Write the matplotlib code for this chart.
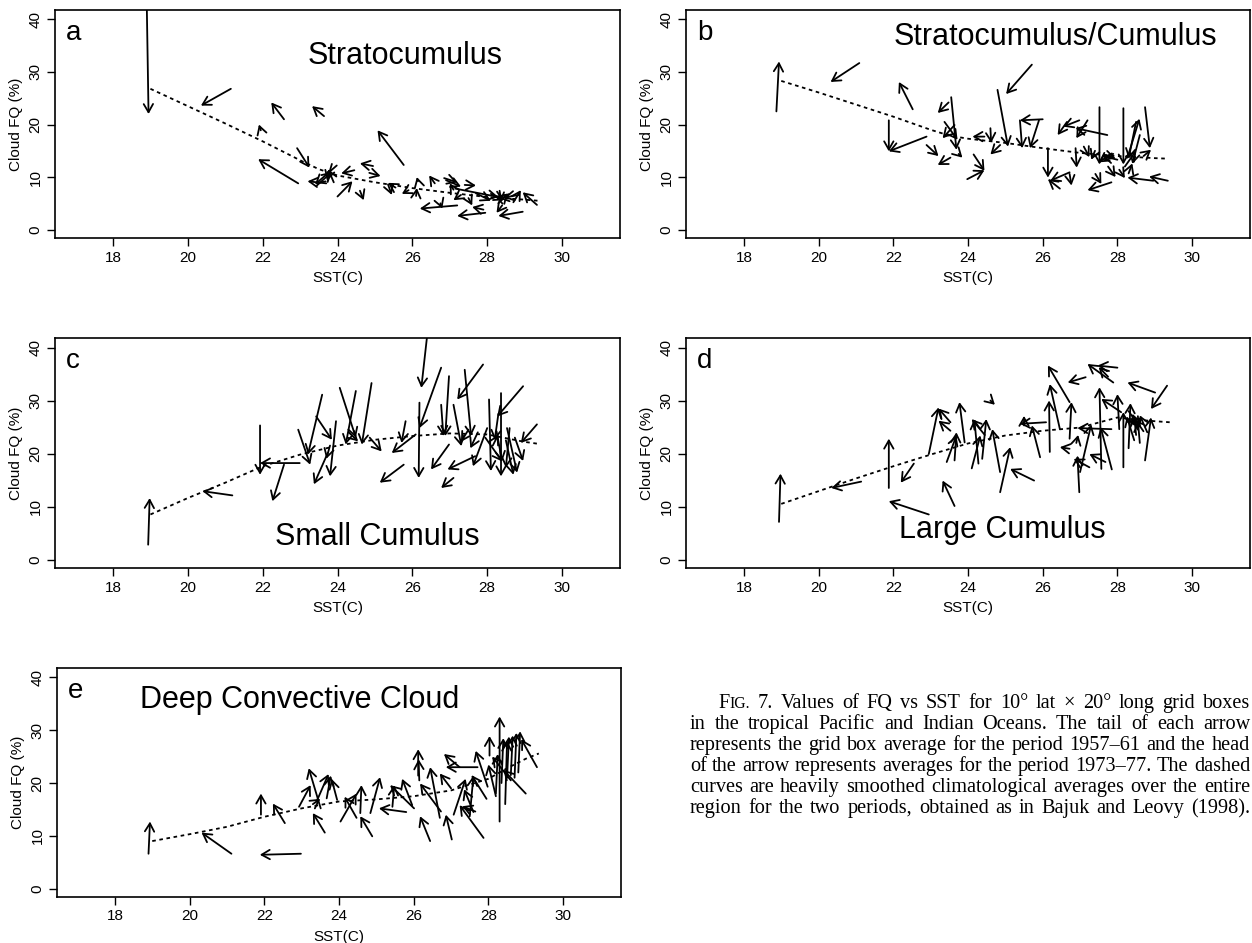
import matplotlib
matplotlib.use("Agg")
import matplotlib.pyplot as plt
from matplotlib.patches import FancyArrowPatch

plt.rcParams["font.family"] = ["Liberation Sans", "DejaVu Sans"]

# arrows: (SST 1957-61, FQ 1957-61, SST 1973-77, FQ 1973-77)
arrows_a = [
    (18.9, 44.0, 18.95, 22.0), (21.15, 26.8, 20.35, 23.6), (22.57, 21.0, 22.23, 24.2),
    (23.64, 21.6, 23.32, 23.5), (21.95, 18.9, 21.9, 20.0), (22.95, 8.8, 21.88, 13.4),
    (25.77, 12.3, 25.07, 18.9), (22.92, 15.5, 23.25, 11.8), (23.85, 12.5, 23.72, 9.3),
    (23.98, 12.2, 23.4, 8.6), (23.45, 8.4, 23.85, 11.0), (23.7, 8.8, 23.2, 9.2),
    (23.9, 9.0, 23.75, 11.5), (24.45, 11.3, 24.1, 10.7), (24.0, 6.3, 24.4, 9.2),
    (24.6, 7.4, 24.7, 5.6), (24.95, 12.1, 24.6, 12.6), (24.85, 10.8, 25.15, 10.2),
    (25.35, 8.6, 25.45, 6.6), (25.9, 7.5, 25.72, 6.8), (26.1, 6.4, 26.12, 7.9),
    (26.15, 9.2, 26.12, 10.0), (26.6, 8.8, 26.45, 10.3), (26.9, 9.4, 27.3, 8.2),
    (26.85, 9.8, 27.2, 9.0), (27.4, 8.5, 27.7, 8.4), (27.2, 4.6, 26.2, 4.0),
    (26.75, 5.0, 26.8, 4.0), (27.95, 3.2, 27.2, 2.6), (28.95, 3.4, 28.3, 2.6),
    (29.33, 4.7, 28.95, 7.1), (27.15, 7.8, 28.3, 6.2), (27.7, 6.9, 28.1, 5.5),
    (27.5, 6.0, 27.6, 4.6), (27.9, 3.8, 27.6, 4.3), (28.1, 6.8, 28.45, 5.6),
    (28.6, 5.4, 28.2, 6.4), (28.45, 7.1, 28.35, 5.3), (28.85, 6.6, 28.45, 6.1),
    (28.7, 5.2, 28.9, 7.5), (28.3, 5.0, 28.55, 6.9), (28.4, 4.6, 28.25, 3.2),
    (27.1, 7.6, 27.0, 8.8), (25.55, 8.0, 25.35, 8.9), (27.3, 6.6, 27.1, 5.6),
]
curve_sst_a = [19, 20, 21, 22, 23, 23.5, 24, 25, 26, 27, 28, 29, 29.35]
curve_fq_a = [26.8, 23.5, 20.2, 16.8, 13.2, 11.5, 10.3, 9.0, 7.9, 7.0, 6.2, 5.7, 5.5]

arrows_b = [
    (18.87, 22.5, 18.94, 32.0), (21.09, 31.7, 20.32, 28.1), (22.52, 22.9, 22.15, 28.1),
    (25.71, 31.4, 25.02, 25.8), (24.79, 26.6, 25.07, 15.8), (23.48, 24.2, 23.19, 22.2),
    (23.55, 25.2, 23.69, 15.2), (23.37, 20.5, 23.72, 17.1), (23.64, 19.9, 23.32, 17.4),
    (21.88, 20.8, 21.88, 14.9), (22.89, 17.7, 21.88, 14.9), (22.89, 16.1, 23.21, 14.0),
    (23.53, 13.7, 23.19, 12.3), (23.75, 14.4, 23.85, 13.7), (24.44, 17.7, 24.12, 17.7),
    (24.6, 19.3, 24.62, 16.5), (24.86, 16.1, 24.6, 14.3), (24.15, 14.3, 24.44, 11.2),
    (23.98, 9.6, 24.44, 11.3), (25.39, 20.8, 25.45, 15.5), (26.0, 21.0, 25.39, 20.8),
    (25.9, 20.8, 25.66, 15.5), (26.14, 15.5, 26.14, 9.9), (26.46, 7.8, 26.14, 9.6),
    (26.72, 10.9, 26.2, 9.3), (26.72, 10.6, 26.77, 8.4), (26.98, 20.8, 26.55, 19.6),
    (26.65, 20.5, 26.4, 18.0), (27.2, 20.8, 26.9, 17.4), (27.73, 18.0, 26.88, 19.3),
    (26.88, 15.5, 26.91, 11.8), (27.52, 23.3, 27.52, 12.4), (28.16, 23.1, 28.16, 12.4),
    (28.74, 23.3, 28.87, 15.5), (28.27, 13.7, 28.59, 21.1), (27.84, 9.0, 27.2, 7.5),
    (27.41, 10.6, 27.57, 8.7), (28.96, 9.3, 28.27, 9.9), (29.35, 9.3, 28.85, 10.1),
    (28.5, 20.5, 28.3, 13.5), (28.6, 18.0, 28.4, 12.5), (28.2, 12.0, 28.5, 15.0),
    (28.0, 13.3, 27.6, 14.0), (27.85, 14.5, 27.5, 12.8), (27.4, 15.0, 27.3, 13.3),
    (28.3, 10.7, 28.4, 12.6), (28.05, 11.4, 28.2, 9.8), (27.75, 12.0, 27.95, 10.0),
    (27.1, 15.8, 27.25, 13.8), (28.7, 14.0, 28.9, 15.2), (27.65, 14.2, 27.95, 13.6),
]
curve_sst_b = [19, 20, 21, 22, 23, 23.5, 24, 25, 26, 27, 28, 29, 29.35]
curve_fq_b = [28.3, 26.1, 23.8, 21.5, 19.0, 17.9, 17.3, 16.5, 15.5, 14.6, 14.0, 13.6, 13.5]

arrows_c = [
    (18.94, 2.8, 18.98, 11.6), (21.19, 12.1, 20.39, 12.9), (22.99, 18.2, 21.93, 18.2),
    (21.93, 25.3, 21.93, 16.0), (22.57, 17.9, 22.26, 11.0), (22.95, 24.5, 23.27, 17.9),
    (23.59, 31.1, 23.21, 19.8), (23.43, 27.0, 23.85, 22.6), (23.96, 26.1, 23.8, 15.7),
    (23.74, 20.1, 23.37, 14.2), (24.06, 32.4, 24.49, 23.0), (24.49, 31.8, 24.22, 21.7),
    (24.91, 33.3, 24.65, 21.7), (24.86, 23.0, 25.18, 20.4), (26.09, 23.6, 25.45, 20.1),
    (25.77, 17.9, 25.13, 14.5), (26.4, 42.5, 26.24, 32.4), (26.77, 36.2, 26.19, 24.8),
    (26.19, 29.6, 26.17, 15.4), (25.82, 26.1, 25.71, 22.0), (26.98, 21.7, 26.5, 17.0),
    (26.98, 34.6, 26.88, 23.3), (26.77, 29.2, 26.83, 23.3), (27.4, 35.8, 27.57, 23.3),
    (27.89, 36.8, 27.2, 30.2), (27.1, 29.2, 27.31, 21.4), (27.68, 19.5, 26.94, 17.0),
    (27.1, 15.4, 26.77, 13.5), (28.0, 24.8, 27.62, 17.6), (28.05, 30.2, 28.1, 16.7),
    (28.37, 31.4, 28.37, 15.7), (28.96, 32.7, 28.27, 27.0), (29.33, 25.5, 28.9, 22.0),
    (28.74, 23.0, 28.96, 18.6), (28.53, 24.8, 28.8, 16.4), (28.3, 27.5, 28.2, 22.5),
    (28.25, 24.2, 28.4, 18.5), (28.6, 24.8, 28.5, 17.3), (28.5, 22.5, 28.7, 16.0),
    (27.95, 23.0, 28.4, 18.5), (24.3, 24.0, 24.55, 22.3), (23.8, 21.5, 23.7, 19.0),
    (27.5, 24.5, 27.3, 22.2), (27.75, 24.0, 27.55, 21.0), (28.15, 21.5, 28.3, 23.6),
]
curve_sst_c = [19, 20, 21, 22, 23, 24, 25, 26, 27, 28, 29, 29.4]
curve_fq_c = [8.5, 11.6, 14.5, 17.6, 19.8, 21.5, 22.6, 23.3, 23.8, 23.6, 22.2, 21.8]

arrows_d = [
    (18.94, 7.1, 18.98, 16.2), (21.14, 14.7, 20.34, 13.5), (21.88, 13.5, 21.88, 22.8),
    (22.55, 18.1, 22.2, 14.5), (22.95, 8.5, 21.88, 11.0), (23.64, 10.1, 23.32, 14.9),
    (22.95, 19.9, 23.21, 28.7), (23.53, 24.3, 23.21, 26.2), (23.53, 25.9, 23.21, 28.5),
    (23.43, 18.4, 23.69, 23.4), (23.64, 18.7, 23.69, 24.0), (23.91, 22.1, 23.77, 29.7),
    (24.1, 17.2, 24.33, 23.4), (24.28, 18.1, 24.17, 26.5), (24.38, 19.0, 24.49, 26.5),
    (24.86, 16.5, 24.65, 24.6), (24.86, 12.7, 25.13, 21.2), (25.77, 14.9, 25.13, 17.1),
    (24.6, 30.0, 24.72, 29.2), (25.93, 19.3, 25.71, 25.3), (26.09, 25.9, 25.39, 25.6),
    (25.5, 25.3, 25.5, 27.1), (26.19, 20.3, 26.17, 30.0), (26.46, 24.6, 26.19, 33.1),
    (26.72, 29.7, 26.14, 36.6), (26.72, 22.8, 26.77, 29.7), (27.15, 34.4, 26.67, 33.4),
    (27.89, 33.4, 27.2, 36.9), (28.0, 36.2, 27.47, 36.6), (27.75, 34.5, 27.5, 36.3),
    (29.01, 31.5, 28.27, 33.4), (29.33, 32.8, 28.9, 28.4), (26.98, 12.7, 26.93, 19.6),
    (27.25, 17.4, 26.83, 19.0), (27.68, 18.4, 27.25, 19.9), (27.57, 17.1, 27.52, 32.5),
    (27.84, 24.6, 26.93, 24.8), (28.16, 17.4, 28.16, 27.8), (28.1, 27.8, 27.57, 30.3),
    (28.05, 24.6, 28.0, 31.2), (28.74, 18.7, 28.9, 26.8), (26.72, 20.9, 26.46, 21.2),
    (27.0, 16.5, 27.3, 25.5), (27.85, 17.0, 27.55, 25.0), (24.45, 23.5, 24.1, 26.5),
    (28.55, 24.5, 28.4, 27.5), (28.7, 25.5, 28.35, 26.5), (28.3, 28.0, 28.6, 25.0),
    (28.5, 23.5, 28.45, 27.0), (28.8, 24.0, 28.6, 27.2), (28.3, 21.0, 28.35, 29.5),
    (28.45, 22.5, 28.25, 27.0), (28.6, 22.0, 28.55, 26.0), (26.9, 22.0, 26.95, 23.5),
]
curve_sst_d = [19, 20, 21, 22, 23, 24, 25, 26, 27, 28, 28.5, 29, 29.4]
curve_fq_d = [10.5, 12.9, 15.3, 17.6, 19.8, 21.9, 23.4, 24.3, 24.9, 26.8, 26.4, 26.1, 25.9]

arrows_e = [
    (18.9, 6.6, 18.94, 12.7), (21.12, 6.6, 20.32, 10.6), (22.98, 6.6, 21.88, 6.4),
    (21.91, 14.0, 21.91, 18.0), (22.55, 12.4, 22.23, 16.1), (22.93, 15.5, 23.24, 19.6),
    (23.51, 15.2, 23.19, 22.8), (23.62, 10.6, 23.3, 14.3), (23.4, 16.5, 23.72, 21.7),
    (23.67, 17.1, 23.78, 21.4), (23.95, 16.8, 23.8, 20.8), (24.04, 12.7, 24.47, 18.0),
    (24.47, 13.4, 24.15, 17.4), (24.57, 14.3, 24.6, 19.6), (24.89, 9.9, 24.57, 13.7),
    (24.84, 14.3, 25.1, 21.1), (25.8, 14.5, 25.07, 15.2), (25.43, 15.5, 25.48, 19.6),
    (26.01, 15.2, 25.37, 19.6), (25.96, 15.8, 25.69, 20.8), (26.44, 9.0, 26.17, 13.7),
    (26.12, 21.4, 26.12, 26.4), (26.15, 20.5, 26.13, 24.5), (26.73, 14.6, 26.17, 19.9),
    (26.7, 13.4, 26.44, 23.0), (27.0, 19.0, 26.7, 21.8), (27.02, 9.3, 26.86, 14.0),
    (27.23, 23.0, 26.81, 25.5), (27.71, 23.0, 26.86, 23.0), (27.07, 14.0, 27.39, 20.8),
    (27.87, 9.6, 27.23, 15.8), (27.65, 14.6, 27.3, 15.6), (27.5, 13.7, 27.6, 21.4),
    (27.95, 17.0, 27.55, 21.5), (27.98, 19.3, 27.66, 26.1), (28.3, 12.7, 28.3, 32.6),
    (28.03, 25.2, 28.03, 28.9), (28.2, 18.0, 28.25, 25.5), (28.35, 20.0, 28.4, 28.5),
    (28.5, 21.0, 28.55, 28.8), (28.6, 21.5, 28.65, 29.0), (28.7, 21.0, 28.75, 29.5),
    (28.45, 16.0, 28.5, 28.0), (28.8, 22.0, 28.85, 29.8), (29.3, 23.0, 28.88, 28.3),
    (28.6, 20.5, 28.1, 25.0), (29.0, 18.0, 28.4, 22.5), (28.2, 17.5, 28.0, 23.5),
    (27.6, 14.5, 27.35, 18.8), (23.3, 16.0, 23.5, 17.0),
]
curve_sst_e = [19, 20, 21, 22, 23, 24, 25, 26, 27, 28, 28.5, 29, 29.35]
curve_fq_e = [9.0, 10.3, 11.7, 13.6, 15.2, 16.5, 16.9, 17.5, 18.6, 20.8, 22.8, 24.6, 25.6]

letters = ["a", "b", "c", "d", "e"]
cloud_types = ["Stratocumulus", "Stratocumulus/Cumulus", "Small Cumulus",
               "Large Cumulus", "Deep Convective Cloud"]
xticks = [18, 20, 22, 24, 26, 28, 30]
yticks = [0, 10, 20, 30, 40]

caption_lines = [
    "FIG. 7. Values of FQ vs SST for 10° lat × 20° long grid boxes",
    "in the tropical Pacific and Indian Oceans. The tail of each arrow",
    "represents the grid box average for the period 1957–61 and the head",
    "of the arrow represents averages for the period 1973–77. The dashed",
    "curves are heavily smoothed climatological averages over the entire",
    "region for the two periods, obtained as in Bajuk and Leovy (1998).",
]

W, H = 1252, 943
fig = plt.figure(figsize=(W / 100, H / 100), dpi=100)

# [left, top, width, height] in pixels from top-left
boxes = [(55, 10, 565, 228), (686, 10, 564, 228), (55, 338, 565, 230),
         (686, 338, 564, 230), (57, 668, 564, 229)]
label_pos = [(0.62, 0.80), (0.655, 0.88), (0.57, 0.135), (0.56, 0.165), (0.43, 0.86)]

panels = [
    (arrows_a, curve_sst_a, curve_fq_a),
    (arrows_b, curve_sst_b, curve_fq_b),
    (arrows_c, curve_sst_c, curve_fq_c),
    (arrows_d, curve_sst_d, curve_fq_d),
    (arrows_e, curve_sst_e, curve_fq_e),
]

for i, (arrows, csst, cfq) in enumerate(panels):
    l, t, w, h = boxes[i]
    ax = fig.add_axes([l / W, 1 - (t + h) / H, w / W, h / H])
    ax.plot(csst, cfq, color="black", lw=1.3, ls=(0, (2.0, 2.0)))
    for x0, y0, x1, y1 in arrows:
        ax.add_patch(FancyArrowPatch((x0, y0), (x1, y1),
                                     arrowstyle="->,head_length=0.42,head_width=0.24",
                                     mutation_scale=14, lw=1.3, color="black",
                                     shrinkA=0, shrinkB=0))
    ax.set_xlim(16.45, 31.55)
    ax.set_ylim(-1.6, 41.8)
    ax.set_xticks(xticks)
    ax.set_yticks(yticks)
    ax.tick_params(direction="out", length=6, width=1, labelsize=11, pad=3)
    ax.tick_params(axis="y", labelrotation=90)
    for lbl in ax.get_yticklabels():
        lbl.set_va("center")
    for s in ax.spines.values():
        s.set_linewidth(1.2)
    ax.set_ylabel("Cloud FQ (%)", fontsize=11, labelpad=4)
    ax.set_xlabel("SST(C)", fontsize=11, labelpad=5)
    ax.text(0.02, 0.90, letters[i], transform=ax.transAxes, fontsize=20,
            ha="left", va="center")
    ax.text(label_pos[i][0], label_pos[i][1], cloud_types[i], transform=ax.transAxes,
            fontsize=22, ha="center", va="center")

# justified caption, Times-like
renderer = fig.canvas.get_renderer()
serif = "Liberation Serif"
cap_size = 14.6
x_right = 1250
baselines = [708, 729, 750, 771, 792, 813]

for k, line in enumerate(caption_lines):
    words = line.split(" ")
    pieces = []
    for wd in words:
        if wd == "FIG.":
            pieces.append([("F", cap_size), ("IG.", cap_size * 0.78)])
        else:
            pieces.append([(wd, cap_size)])
    x_left = 718 if k == 0 else 690
    y = 1 - baselines[k] / H
    arts = []
    widths = []
    for word in pieces:
        parts = []
        wsum = 0
        for s, fs in word:
            txt = fig.text(0, y, s, fontsize=fs, family=serif, va="baseline", ha="left")
            wpx = txt.get_window_extent(renderer).width
            parts.append((txt, wpx))
            wsum += wpx
        arts.append(parts)
        widths.append(wsum)
    gap = (x_right - x_left - sum(widths)) / (len(widths) - 1)
    xp = x_left
    for parts, wsum in zip(arts, widths):
        xx = xp
        for txt, wpx in parts:
            txt.set_x(xx / W)
            xx += wpx
        xp += wsum + gap

fig.savefig("out.png", dpi=100)
